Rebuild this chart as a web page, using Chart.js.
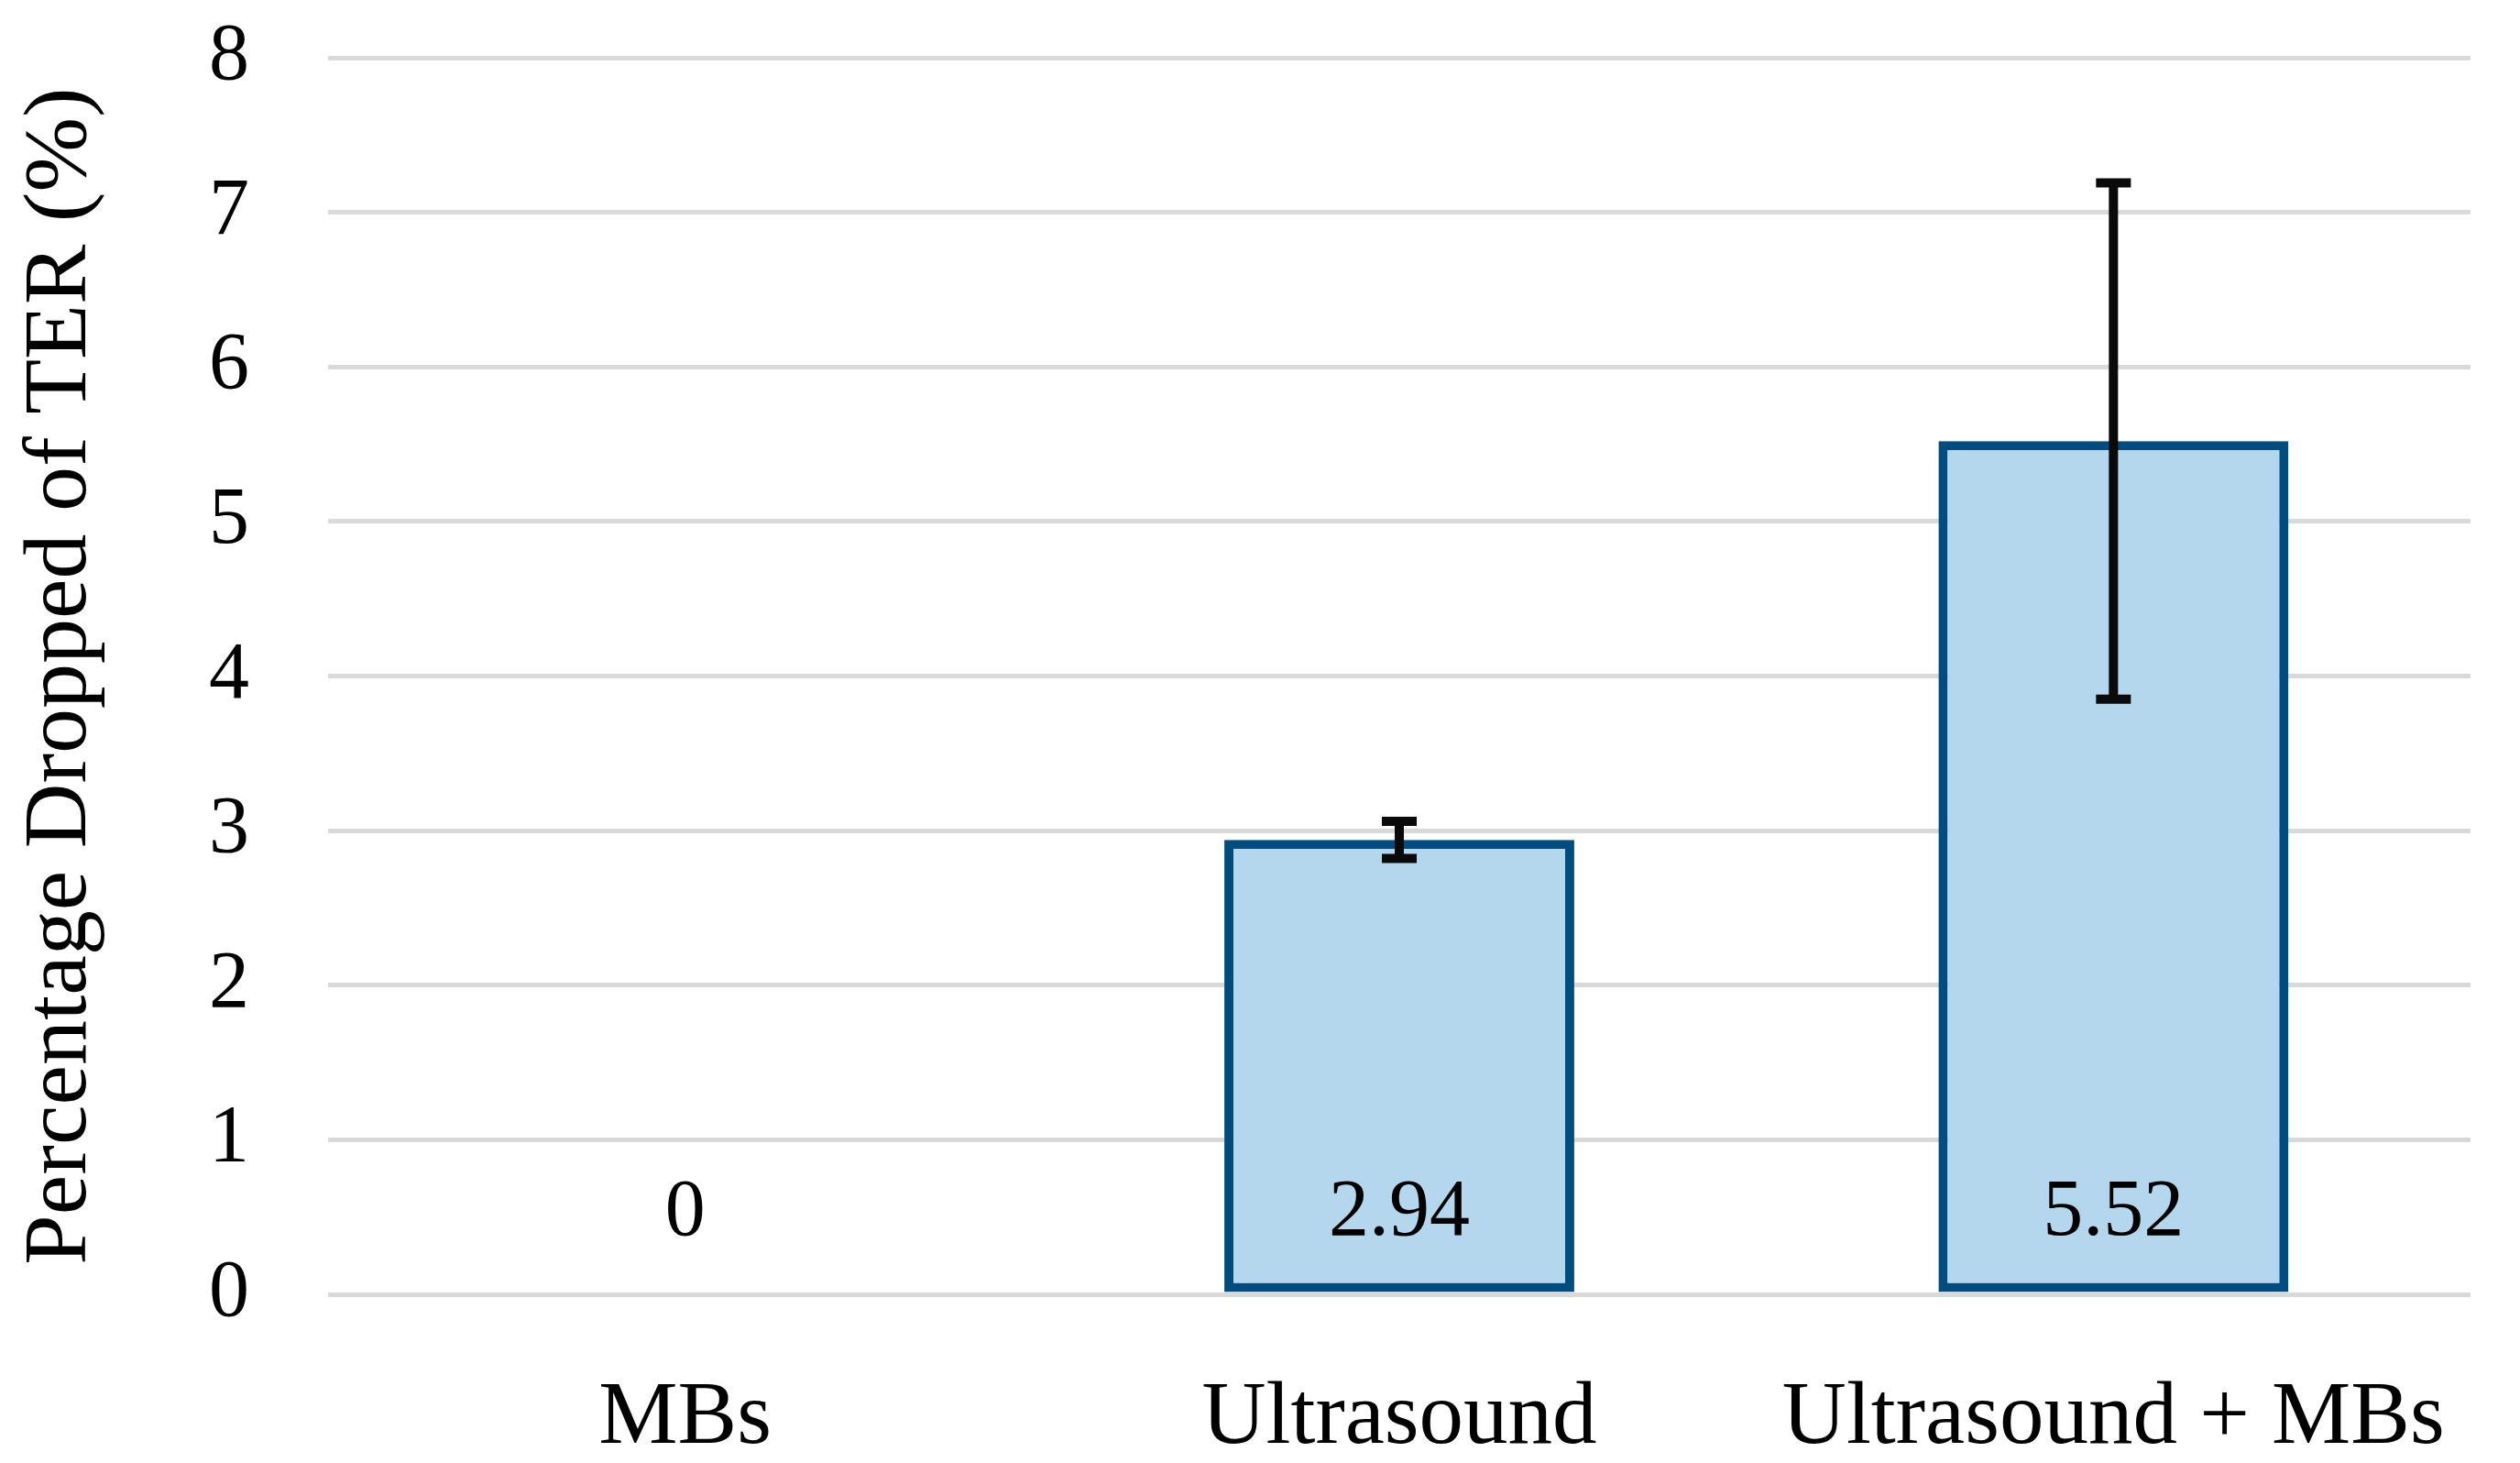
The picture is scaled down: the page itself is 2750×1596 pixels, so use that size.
<!DOCTYPE html>
<html>
<head>
<meta charset="utf-8">
<script src="https://cdn.jsdelivr.net/npm/chart.js@4.4.1/dist/chart.umd.min.js"></script>
<style>
  html, body { margin: 0; padding: 0; background: #ffffff; }
  #wrap { width: 2750px; height: 1596px; }
</style>
</head>
<body>
<div id="wrap"><canvas id="ter-chart" width="2750" height="1596"></canvas></div>
<script>
// Дані графіка
const categories = ["MBs", "Ultrasound", "Ultrasound + MBs"];
const terDrop = [0, 2.94, 5.52];
const terError = [0, 0.12, 1.67];
const yTicks = [0, 1, 2, 3, 4, 5, 6, 7, 8];

const serif = "'Liberation Serif', 'Times New Roman', serif";

// Планки похибок
const errorBars = {
    id: "errorBars",
    afterDatasetsDraw(chart) {
        const { ctx, scales: { x, y } } = chart;
        ctx.save();
        ctx.strokeStyle = "#0a0a0a";
        ctx.lineWidth = 10;
        ctx.lineCap = "butt";
        terDrop.forEach((v, i) => {
            const err = terError[i];
            if (!err) return;
            const cx = x.getPixelForValue(i);
            const top = y.getPixelForValue(v + err);
            const bottom = y.getPixelForValue(v - err);
            ctx.beginPath();
            ctx.moveTo(cx, top);
            ctx.lineTo(cx, bottom);
            ctx.moveTo(cx - 19, top);
            ctx.lineTo(cx + 19, top);
            ctx.moveTo(cx - 19, bottom);
            ctx.lineTo(cx + 19, bottom);
            ctx.stroke();
        });
        ctx.restore();
    }
};

// Підписи значень біля основи
const valueLabels = {
    id: "valueLabels",
    afterDatasetsDraw(chart) {
        const { ctx, scales: { x, y } } = chart;
        ctx.save();
        ctx.fillStyle = "#000000";
        ctx.font = "88px " + serif;
        ctx.textAlign = "center";
        ctx.textBaseline = "middle";
        terDrop.forEach((v, i) => {
            ctx.fillText(String(v), x.getPixelForValue(i), y.getPixelForValue(0) - 88);
        });
        ctx.restore();
    }
};

new Chart(document.getElementById("ter-chart"), {
    type: "bar",
    data: {
        labels: categories,
        datasets: [{
            data: terDrop,
            backgroundColor: "#b4d7ee",
            borderColor: "#004c7e",
            borderWidth: 10,
            borderSkipped: false,
            categoryPercentage: 1,
            barPercentage: 0.49
        }]
    },
    options: {
        responsive: false,
        animation: false,
        devicePixelRatio: 1,
        layout: { padding: { top: 63, right: 54, left: 0, bottom: 0 } },
        plugins: {
            legend: { display: false },
            tooltip: { enabled: false }
        },
        scales: {
            x: {
                grid: { display: false },
                border: { display: false },
                ticks: {
                    color: "#000000",
                    font: { family: serif, size: 97 },
                    padding: 70
                },
                afterFit(scale) {
                    scale.height = 184;
                    scale.paddingLeft = 0;
                    scale.paddingRight = 0;
                }
            },
            y: {
                min: 0,
                max: 8,
                afterBuildTicks(scale) { scale.ticks = yTicks.map(v => ({ value: v })); },
                grid: { color: "#d9d9d9", lineWidth: 5, drawTicks: false },
                border: { display: false },
                ticks: {
                    color: "#000000",
                    font: { family: serif, size: 88 },
                    padding: 86
                },
                title: {
                    display: true,
                    text: "Percentage Dropped of TER (%)",
                    color: "#000000",
                    font: { family: serif, size: 98 },
                    padding: { top: 8, bottom: 0 }
                },
                afterFit(scale) {
                    scale.width = 358;
                    scale.paddingTop = 0;
                    scale.paddingBottom = 0;
                }
            }
        }
    },
    plugins: [errorBars, valueLabels]
});
</script>
</body>
</html>
